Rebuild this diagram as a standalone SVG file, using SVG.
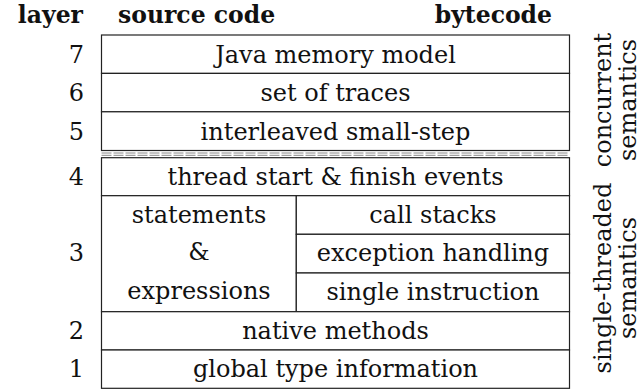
<svg xmlns="http://www.w3.org/2000/svg" width="643" height="389" viewBox="0 0 643 389">
  <style>
    text { font-family: "DejaVu Serif", "Liberation Serif", serif; font-size: 24px; fill: #111; }
    .hd { font-weight: bold; font-size: 23.5px; }
    .c { text-anchor: middle; }
    .n { text-anchor: end; }
    .cell { fill: #fff; stroke: #222; stroke-width: 1.2; }
    .sep { stroke: #888; stroke-width: 1; stroke-dasharray: 10 2; fill: none; }
  </style>
  <rect width="643" height="389" fill="#fff"/>

  <!-- column headers -->
  <g id="header">
    <text class="hd n" x="83" y="23">layer</text>
    <text class="hd" x="118" y="23">source code</text>
    <text class="hd n" x="552" y="23">bytecode</text>
  </g>

  <!-- layer numbers -->
  <g id="layer-numbers">
    <text class="n" x="84" y="62.5">7</text>
    <text class="n" x="84" y="101">6</text>
    <text class="n" x="84" y="139.5">5</text>
    <text class="n" x="84" y="184.5">4</text>
    <text class="n" x="84" y="261">3</text>
    <text class="n" x="84" y="338.5">2</text>
    <text class="n" x="84" y="377">1</text>
  </g>

  <!-- concurrent layers -->
  <g id="layer7">
    <rect class="cell" x="101.5" y="35" width="468" height="38.4"/>
    <text class="c" x="335.5" y="62.5">Java memory model</text>
  </g>
  <g id="layer6">
    <rect class="cell" x="101.5" y="73.4" width="468" height="38.4"/>
    <text class="c" x="335.5" y="101">set of traces</text>
  </g>
  <g id="layer5">
    <rect class="cell" x="101.5" y="111.8" width="468" height="38.7"/>
    <text class="c" x="335.5" y="139.5">interleaved small-step</text>
  </g>

  <!-- boundary between concurrent and single-threaded layers -->
  <g id="connectors">
    <line class="sep" x1="101.5" y1="153" x2="569.5" y2="153"/>
    <line class="sep" x1="101.5" y1="155.3" x2="569.5" y2="155.3"/>
  </g>

  <!-- single-threaded layers -->
  <g id="layer4">
    <rect class="cell" x="101.5" y="157.7" width="468" height="38"/>
    <text class="c" x="335.5" y="184.5">thread start &amp; finish events</text>
  </g>
  <g id="layer3-source">
    <rect class="cell" x="101.5" y="195.7" width="194.8" height="116"/>
    <text class="c" x="199" y="222.5">statements</text>
    <text class="c" x="199" y="260">&amp;</text>
    <text class="c" x="199" y="299">expressions</text>
  </g>
  <g id="layer3-callstacks">
    <rect class="cell" x="296.3" y="195.7" width="273.2" height="38.6"/>
    <text class="c" x="433" y="222.5">call stacks</text>
  </g>
  <g id="layer3-exceptions">
    <rect class="cell" x="296.3" y="234.3" width="273.2" height="38.7"/>
    <text class="c" x="433" y="261">exception handling</text>
  </g>
  <g id="layer3-instruction">
    <rect class="cell" x="296.3" y="273" width="273.2" height="38.7"/>
    <text class="c" x="433" y="299.5">single instruction</text>
  </g>
  <g id="layer2">
    <rect class="cell" x="101.5" y="311.7" width="468" height="38.3"/>
    <text class="c" x="335.5" y="338.5">native methods</text>
  </g>
  <g id="layer1">
    <rect class="cell" x="101.5" y="350" width="468" height="38.3"/>
    <text class="c" x="335.5" y="377">global type information</text>
  </g>

  <!-- rotated side labels (read bottom to top) -->
  <g id="label-concurrent">
    <text class="c" x="611" y="100" transform="rotate(-90 611 100)">concurrent</text>
    <text class="c" x="636" y="100" transform="rotate(-90 636 100)">semantics</text>
  </g>
  <g id="label-single">
    <text class="c" x="611" y="278" transform="rotate(-90 611 278)">single-threaded</text>
    <text class="c" x="636" y="278" transform="rotate(-90 636 278)">semantics</text>
  </g>
</svg>
